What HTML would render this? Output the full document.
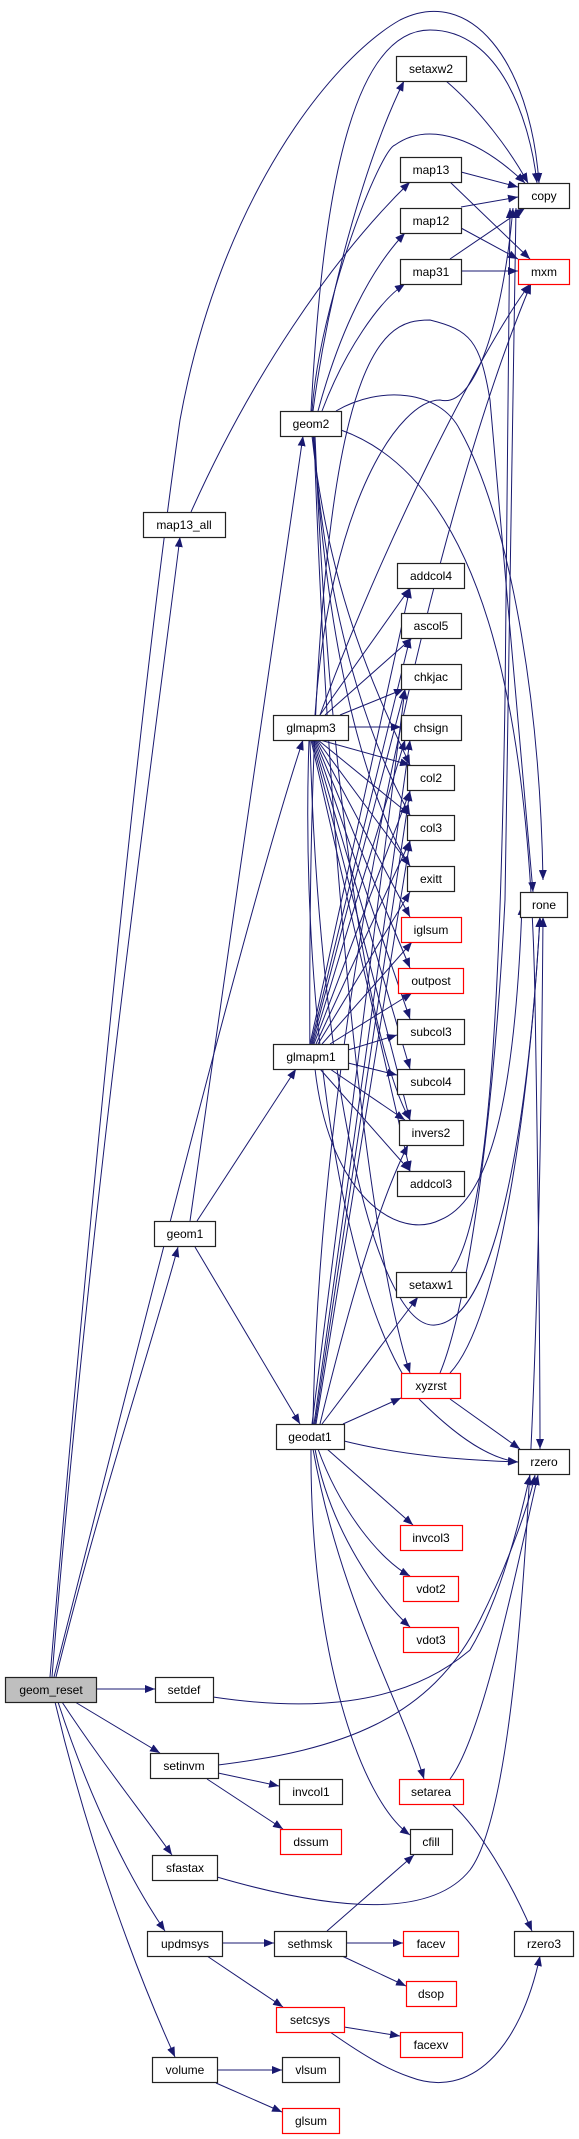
<!DOCTYPE html>
<html><head><meta charset="utf-8"><style>
html,body{margin:0;padding:0;background:#fff}
svg{display:block}
text{font-family:"Liberation Sans",sans-serif;font-size:12px;fill:#000}
.e{fill:none;stroke:#191970;stroke-width:1}
.n{fill:#fff;stroke:#222;stroke-width:1.2}
.r{fill:#fff;stroke:#f00;stroke-width:1.2}
</style></head><body>
<svg width="579" height="2139" viewBox="0 0 579 2139" xmlns="http://www.w3.org/2000/svg">
<defs><marker id="a" markerWidth="10" markerHeight="8" refX="10" refY="4" orient="auto" markerUnits="userSpaceOnUse"><path d="M0,0 L10,4 L0,8 z" fill="#191970"/></marker></defs>
<g marker-end="url(#a)">
<path class="e" d="M50,1677 C90,1200 140,700 180,420 C220,200 330,60 400,20 C470,-15 530,60 539,183"/>
<path class="e" d="M52,1677 C90,1200 160,700 180,537"/>
<path class="e" d="M54,1677 C150,1300 250,900 303,740"/>
<path class="e" d="M56,1677 C100,1500 150,1350 178,1247"/>
<path class="e" d="M96,1689 L155,1689"/>
<path class="e" d="M75,1702 L160,1753"/>
<path class="e" d="M62,1702 C100,1760 140,1810 172,1855"/>
<path class="e" d="M58,1702 C90,1800 130,1880 165,1931"/>
<path class="e" d="M55,1702 C90,1850 140,1980 175,2057"/>
<path class="e" d="M190,1221 C220,1000 280,600 303,436"/>
<path class="e" d="M197,1221 L296,1069"/>
<path class="e" d="M195,1247 L300,1424"/>
<path class="e" d="M191,512 C250,380 330,260 410,182"/>
<path class="e" d="M313,411 C330,280 370,150 404,81"/>
<path class="e" d="M318,411 C340,330 370,270 405,233"/>
<path class="e" d="M322,411 C345,350 380,300 405,284"/>
<path class="e" d="M312,411 C320,300 380,150 395,145 C430,120 480,140 525,183"/>
<path class="e" d="M311,411 C320,250 340,30 430,30 C500,30 530,120 537,183"/>
<path class="e" d="M336,411 C380,385 440,390 460,430 C510,520 540,700 543,880"/>
<path class="e" d="M341,430 C480,480 530,700 535,1000 S540,1400 540,1449"/>
<path class="e" d="M312,436 C330,600 380,700 410,765"/>
<path class="e" d="M313,436 C330,650 380,760 410,815"/>
<path class="e" d="M314,436 C330,700 380,820 410,866"/>
<path class="e" d="M315,436 C330,800 370,1050 410,1120"/>
<path class="e" d="M314,436 C330,900 370,1250 410,1373"/>
<path class="e" d="M320,715 C380,550 480,350 530,284"/>
<path class="e" d="M315,715 C330,500 400,400 440,400 C480,410 505,300 513,208"/>
<path class="e" d="M320,715 L410,588"/>
<path class="e" d="M325,715 L412,638"/>
<path class="e" d="M340,715 L404,689"/>
<path class="e" d="M348,727 L401,727"/>
<path class="e" d="M320,740 L410,765"/>
<path class="e" d="M318,740 L410,815"/>
<path class="e" d="M317,740 L410,866"/>
<path class="e" d="M316,740 L410,917"/>
<path class="e" d="M315,740 L410,968"/>
<path class="e" d="M314,740 L410,1019"/>
<path class="e" d="M313,740 L410,1069"/>
<path class="e" d="M312,740 L410,1120"/>
<path class="e" d="M311,740 L410,1171"/>
<path class="e" d="M310,740 C320,1100 380,1330 435,1325 C500,1320 530,1100 540,917"/>
<path class="e" d="M309,740 C300,1000 340,1300 420,1400 C470,1450 500,1460 518,1462"/>
<path class="e" d="M310,1044 L410,588"/>
<path class="e" d="M311,1044 L410,638"/>
<path class="e" d="M312,1044 L405,689"/>
<path class="e" d="M313,1044 L405,740"/>
<path class="e" d="M314,1044 L410,791"/>
<path class="e" d="M316,1044 L410,841"/>
<path class="e" d="M318,1044 L410,892"/>
<path class="e" d="M322,1044 L412,942"/>
<path class="e" d="M330,1044 L412,993"/>
<path class="e" d="M348,1050 L397,1035"/>
<path class="e" d="M348,1063 L397,1075"/>
<path class="e" d="M330,1069 L405,1120"/>
<path class="e" d="M320,1069 L410,1171"/>
<path class="e" d="M315,1069 C330,1200 400,1240 440,1220 C490,1200 515,1100 522,905"/>
<path class="e" d="M310,1069 C305,340 380,320 430,320 C470,330 480,340 490,400 L533,892"/>
<path class="e" d="M322,1424 L418,1297"/>
<path class="e" d="M343,1424 L401,1398"/>
<path class="e" d="M344,1441 C400,1455 460,1460 518,1462"/>
<path class="e" d="M327,1449 L413,1525"/>
<path class="e" d="M318,1449 C340,1510 380,1560 410,1576"/>
<path class="e" d="M315,1449 C330,1530 380,1600 410,1627"/>
<path class="e" d="M313,1449 C340,1600 400,1700 424,1779"/>
<path class="e" d="M311,1449 C310,1650 360,1800 410,1835"/>
<path class="e" d="M320,1424 C350,1300 380,1200 408,1145"/>
<path class="e" d="M314,1424 L410,740"/>
<path class="e" d="M315,1424 L410,791"/>
<path class="e" d="M316,1424 L410,841"/>
<path class="e" d="M312,1424 L405,689"/>
<path class="e" d="M313,1424 C320,1000 440,500 531,284"/>
<path class="e" d="M446,81 C480,110 510,150 528,183"/>
<path class="e" d="M461,172 L518,187"/>
<path class="e" d="M450,182 L530,259"/>
<path class="e" d="M461,207 L518,197"/>
<path class="e" d="M461,228 L518,259"/>
<path class="e" d="M450,259 L525,208"/>
<path class="e" d="M461,271 L518,271"/>
<path class="e" d="M450,1399 L520,1449"/>
<path class="e" d="M440,1373 C470,1300 495,1100 505,900 L516,208"/>
<path class="e" d="M450,1373 C500,1320 530,1100 540,917"/>
<path class="e" d="M451,1272 C490,1220 500,1000 505,700 L510,208"/>
<path class="e" d="M217,1877 C330,1910 430,1920 470,1870 C530,1790 540,1300 543,917"/>
<path class="e" d="M218,1765 C340,1750 430,1720 480,1620 C510,1560 530,1500 535,1475"/>
<path class="e" d="M213,1697 C300,1710 400,1710 470,1650 C500,1600 520,1520 530,1475"/>
<path class="e" d="M450,1779 C480,1740 510,1600 538,1475"/>
<path class="e" d="M218,1773 L279,1786"/>
<path class="e" d="M207,1779 L283,1829"/>
<path class="e" d="M452,1804 C480,1830 510,1880 532,1931"/>
<path class="e" d="M222,1943 L274,1943"/>
<path class="e" d="M207,1956 L283,2007"/>
<path class="e" d="M327,1931 L414,1855"/>
<path class="e" d="M346,1943 L403,1943"/>
<path class="e" d="M342,1956 L406,1986"/>
<path class="e" d="M344,2027 L400,2036"/>
<path class="e" d="M330,2032 C370,2060 390,2070 410,2077 C470,2100 520,2050 540,1956"/>
<path class="e" d="M217,2070 L282,2070"/>
<path class="e" d="M216,2083 L282,2112"/>
</g>
<g>
<rect class="n" x="396.5" y="56.5" width="70" height="25"/><text x="431" y="73" text-anchor="middle">setaxw2</text>
<rect class="n" x="518.5" y="183.5" width="51" height="25"/><text x="544" y="200" text-anchor="middle">copy</text>
<rect class="n" x="400.5" y="157.5" width="61" height="25"/><text x="431" y="174" text-anchor="middle">map13</text>
<rect class="n" x="400.5" y="208.5" width="61" height="25"/><text x="431" y="225" text-anchor="middle">map12</text>
<rect class="n" x="400.5" y="259.5" width="61" height="25"/><text x="431" y="276" text-anchor="middle">map31</text>
<rect class="r" x="518.5" y="259.5" width="51" height="25"/><text x="544" y="276" text-anchor="middle">mxm</text>
<rect class="n" x="280.5" y="411.5" width="61" height="25"/><text x="311" y="428" text-anchor="middle">geom2</text>
<rect class="n" x="143.5" y="512.5" width="82" height="25"/><text x="184" y="529" text-anchor="middle">map13_all</text>
<rect class="n" x="397.5" y="563.5" width="67" height="25"/><text x="431" y="580" text-anchor="middle">addcol4</text>
<rect class="n" x="401.5" y="613.5" width="60" height="25"/><text x="431" y="630" text-anchor="middle">ascol5</text>
<rect class="n" x="401.5" y="664.5" width="60" height="25"/><text x="431" y="681" text-anchor="middle">chkjac</text>
<rect class="n" x="401.5" y="715.5" width="60" height="25"/><text x="431" y="732" text-anchor="middle">chsign</text>
<rect class="n" x="273.5" y="715.5" width="75" height="25"/><text x="311" y="732" text-anchor="middle">glmapm3</text>
<rect class="n" x="407.5" y="765.5" width="47" height="25"/><text x="431" y="782" text-anchor="middle">col2</text>
<rect class="n" x="407.5" y="815.5" width="47" height="25"/><text x="431" y="832" text-anchor="middle">col3</text>
<rect class="n" x="407.5" y="866.5" width="47" height="25"/><text x="431" y="883" text-anchor="middle">exitt</text>
<rect class="r" x="401.5" y="917.5" width="60" height="25"/><text x="431" y="934" text-anchor="middle">iglsum</text>
<rect class="r" x="398.5" y="968.5" width="65" height="25"/><text x="431" y="985" text-anchor="middle">outpost</text>
<rect class="n" x="397.5" y="1019.5" width="67" height="25"/><text x="431" y="1036" text-anchor="middle">subcol3</text>
<rect class="n" x="273.5" y="1044.5" width="75" height="25"/><text x="311" y="1061" text-anchor="middle">glmapm1</text>
<rect class="n" x="397.5" y="1069.5" width="67" height="25"/><text x="431" y="1086" text-anchor="middle">subcol4</text>
<rect class="n" x="520.5" y="892.5" width="47" height="25"/><text x="544" y="909" text-anchor="middle">rone</text>
<rect class="n" x="399.5" y="1120.5" width="64" height="25"/><text x="431" y="1137" text-anchor="middle">invers2</text>
<rect class="n" x="397.5" y="1171.5" width="67" height="25"/><text x="431" y="1188" text-anchor="middle">addcol3</text>
<rect class="n" x="154.5" y="1221.5" width="61" height="25"/><text x="185" y="1238" text-anchor="middle">geom1</text>
<rect class="n" x="396.5" y="1272.5" width="70" height="25"/><text x="431" y="1289" text-anchor="middle">setaxw1</text>
<rect class="r" x="401.5" y="1373.5" width="59" height="25"/><text x="431" y="1390" text-anchor="middle">xyzrst</text>
<rect class="n" x="276.5" y="1424.5" width="68" height="25"/><text x="310" y="1441" text-anchor="middle">geodat1</text>
<rect class="n" x="518.5" y="1449.5" width="51" height="25"/><text x="544" y="1466" text-anchor="middle">rzero</text>
<rect class="r" x="400.5" y="1525.5" width="62" height="25"/><text x="431" y="1542" text-anchor="middle">invcol3</text>
<rect class="r" x="403.5" y="1576.5" width="55" height="25"/><text x="431" y="1593" text-anchor="middle">vdot2</text>
<rect class="r" x="403.5" y="1627.5" width="55" height="25"/><text x="431" y="1644" text-anchor="middle">vdot3</text>
<rect x="5.5" y="1677.5" width="91" height="25" fill="#bfbfbf" stroke="#222" stroke-width="1.2"/><text x="51" y="1694" text-anchor="middle">geom_reset</text>
<rect class="n" x="155.5" y="1677.5" width="58" height="25"/><text x="184" y="1694" text-anchor="middle">setdef</text>
<rect class="n" x="150.5" y="1753.5" width="68" height="25"/><text x="184" y="1770" text-anchor="middle">setinvm</text>
<rect class="n" x="279.5" y="1779.5" width="63" height="25"/><text x="311" y="1796" text-anchor="middle">invcol1</text>
<rect class="r" x="399.5" y="1779.5" width="64" height="25"/><text x="431" y="1796" text-anchor="middle">setarea</text>
<rect class="r" x="280.5" y="1829.5" width="61" height="25"/><text x="311" y="1846" text-anchor="middle">dssum</text>
<rect class="n" x="410.5" y="1829.5" width="42" height="25"/><text x="431" y="1846" text-anchor="middle">cfill</text>
<rect class="n" x="152.5" y="1855.5" width="65" height="25"/><text x="185" y="1872" text-anchor="middle">sfastax</text>
<rect class="n" x="147.5" y="1931.5" width="75" height="25"/><text x="185" y="1948" text-anchor="middle">updmsys</text>
<rect class="n" x="274.5" y="1931.5" width="72" height="25"/><text x="310" y="1948" text-anchor="middle">sethmsk</text>
<rect class="r" x="403.5" y="1931.5" width="55" height="25"/><text x="431" y="1948" text-anchor="middle">facev</text>
<rect class="n" x="514.5" y="1931.5" width="59" height="25"/><text x="544" y="1948" text-anchor="middle">rzero3</text>
<rect class="r" x="406.5" y="1981.5" width="50" height="25"/><text x="431" y="1998" text-anchor="middle">dsop</text>
<rect class="r" x="276.5" y="2007.5" width="68" height="25"/><text x="310" y="2024" text-anchor="middle">setcsys</text>
<rect class="r" x="400.5" y="2032.5" width="62" height="25"/><text x="431" y="2049" text-anchor="middle">facexv</text>
<rect class="n" x="152.5" y="2057.5" width="65" height="25"/><text x="185" y="2074" text-anchor="middle">volume</text>
<rect class="n" x="282.5" y="2057.5" width="57" height="25"/><text x="311" y="2074" text-anchor="middle">vlsum</text>
<rect class="r" x="282.5" y="2108.5" width="57" height="25"/><text x="311" y="2125" text-anchor="middle">glsum</text>
</g>
</svg>
</body></html>
